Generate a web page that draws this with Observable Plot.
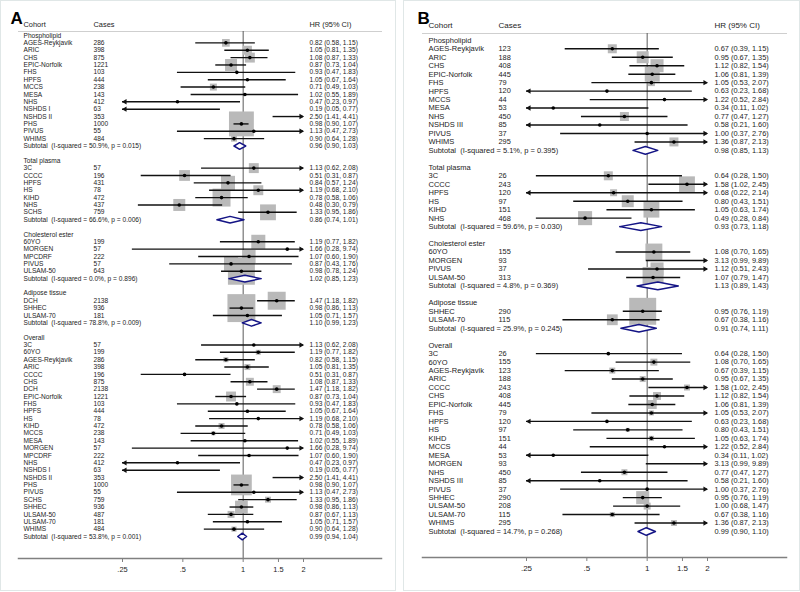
<!DOCTYPE html>
<html>
<head>
<meta charset="utf-8">
<script src="https://cdn.jsdelivr.net/npm/d3@7"></script>
<script src="https://cdn.jsdelivr.net/npm/@observablehq/plot@0.6"></script>
<style>
  body { margin: 0; background: #fff; }
  .panel { position: absolute; top: 0; height: 589px; border: 1px solid #e0e7e7; background: #fff; }
</style>
</head>
<body>
<div id="A" class="panel" style="left:0px;width:394px"></div>
<div id="B" class="panel" style="left:403px;width:395px"></div>
<script>
// ---------- DATA: [cohort, cases, HR, lower, upper, weight] ----------
const sectionNames = ["Phospholipid", "Total plasma", "Cholesterol ester", "Adipose tissue", "Overall"];
const tickValues = [0.25, 0.5, 1, 1.5, 2];
const tickLabels = [".25", ".5", "1", "1.5", "2"];
const headers = ["Cohort", "Cases", "HR (95% CI)"];

// Panel A
const A_phospholipid = [
  ["AGES-Reykjavik", 286, 0.82, 0.58, 1.15, 6.6],
  ["ARIC", 398, 1.05, 0.81, 1.35, 9],
  ["CHS", 875, 1.08, 0.87, 1.33, 11],
  ["EPIC-Norfolk", 1221, 0.87, 0.73, 1.04, 16],
  ["FHS", 103, 0.93, 0.47, 1.83, 0.5],
  ["HPFS", 444, 1.05, 0.67, 1.64, 0.5],
  ["MCCS", 238, 0.71, 0.49, 1.03, 5.4],
  ["MESA", 143, 1.02, 0.55, 1.89, 0.5],
  ["NHS", 412, 0.47, 0.23, 0.97, 0.5],
  ["NSHDS I", 63, 0.19, 0.05, 0.77, 0.4],
  ["NSHDS II", 353, 2.50, 1.41, 4.41, 0.5],
  ["PHS", 1000, 0.98, 0.90, 1.07, 69],
  ["PIVUS", 55, 1.13, 0.47, 2.73, 0.5],
  ["WHIMS", 484, 0.90, 0.64, 1.28, 4]
];
const A_phospholipid_sub = [50.9, 0.015, 0.96, 0.90, 1.03];
const A_total_plasma = [
  ["3C", 57, 1.13, 0.62, 2.08, 11],
  ["CCCC", 196, 0.51, 0.31, 0.87, 13],
  ["HPFS", 431, 0.84, 0.57, 1.24, 22],
  ["HS", 78, 1.19, 0.68, 2.10, 11],
  ["KIHD", 472, 0.78, 0.58, 1.06, 36],
  ["NHS", 437, 0.48, 0.30, 0.79, 16],
  ["SCHS", 759, 1.33, 0.95, 1.86, 28]
];
const A_total_plasma_sub = [66.6, 0.006, 0.86, 0.74, 1.01];
const A_cholesterol_ester = [
  ["60YO", 199, 1.19, 0.77, 1.82, 22],
  ["MORGEN", 57, 1.66, 0.28, 9.74, 0.5],
  ["MPCDRF", 222, 1.07, 0.60, 1.90, 19],
  ["PIVUS", 57, 0.87, 0.43, 1.76, 22],
  ["ULSAM-50", 643, 0.98, 0.78, 1.24, 81]
];
const A_cholesterol_ester_sub = [0.0, 0.896, 1.02, 0.85, 1.23];
const A_adipose = [
  ["DCH", 2138, 1.47, 1.18, 1.82, 36],
  ["SHHEC", 936, 0.98, 0.86, 1.13, 87],
  ["ULSAM-70", 181, 1.05, 0.71, 1.57, 11]
];
const A_adipose_sub = [78.8, 0.009, 1.10, 0.99, 1.23];
const A_overall = [
  ["3C", 57, 1.13, 0.62, 2.08, 0.5],
  ["60YO", 199, 1.19, 0.77, 1.82, 2.8],
  ["AGES-Reykjavik", 286, 0.82, 0.58, 1.15, 2.8],
  ["ARIC", 398, 1.05, 0.81, 1.35, 4],
  ["CCCC", 196, 0.51, 0.31, 0.87, 1],
  ["CHS", 875, 1.08, 0.87, 1.33, 7],
  ["DCH", 2138, 1.47, 1.18, 1.82, 7],
  ["EPIC-Norfolk", 1221, 0.87, 0.73, 1.04, 11],
  ["FHS", 103, 0.93, 0.47, 1.83, 0.5],
  ["HPFS", 444, 1.05, 0.67, 1.64, 1],
  ["HS", 78, 1.19, 0.68, 2.10, 0.5],
  ["KIHD", 472, 0.78, 0.58, 1.06, 4],
  ["MCCS", 238, 0.71, 0.49, 1.03, 1.8],
  ["MESA", 143, 1.02, 0.55, 1.89, 0.5],
  ["MORGEN", 57, 1.66, 0.28, 9.74, 0.3],
  ["MPCDRF", 222, 1.07, 0.60, 1.90, 0.5],
  ["NHS", 412, 0.47, 0.23, 0.97, 0.5],
  ["NSHDS I", 63, 0.19, 0.05, 0.77, 0.3],
  ["NSHDS II", 353, 2.50, 1.41, 4.41, 0.5],
  ["PHS", 1000, 0.98, 0.90, 1.07, 48],
  ["PIVUS", 55, 1.13, 0.47, 2.73, 0.5],
  ["SCHS", 759, 1.33, 0.95, 1.86, 4],
  ["SHHEC", 936, 0.98, 0.86, 1.13, 18],
  ["ULSAM-50", 487, 0.87, 0.67, 1.13, 5.4],
  ["ULSAM-70", 181, 1.05, 0.71, 1.57, 1],
  ["WHIMS", 484, 0.90, 0.64, 1.28, 3]
];
const A_overall_sub = [53.8, 0.001, 0.99, 0.94, 1.04];

// Panel B
const B_phospholipid = [
  ["AGES-Reykjavik", 123, 0.67, 0.39, 1.15, 9],
  ["ARIC", 188, 0.95, 0.67, 1.35, 16],
  ["CHS", 408, 1.12, 0.82, 1.54, 19],
  ["EPIC-Norfolk", 445, 1.06, 0.81, 1.39, 25],
  ["FHS", 79, 1.05, 0.53, 2.07, 5.4],
  ["HPFS", 120, 0.63, 0.23, 1.68, 0.5],
  ["MCCS", 44, 1.22, 0.52, 2.84, 0.5],
  ["MESA", 53, 0.34, 0.11, 1.02, 0.5],
  ["NHS", 450, 0.77, 0.47, 1.27, 9],
  ["NSHDS III", 85, 0.58, 0.21, 1.60, 0.5],
  ["PIVUS", 37, 1.00, 0.37, 2.76, 0.5],
  ["WHIMS", 295, 1.36, 0.87, 2.13, 9]
];
const B_phospholipid_sub = [5.1, 0.395, 0.98, 0.85, 1.13];
const B_total_plasma = [
  ["3C", 26, 0.64, 0.28, 1.50, 9],
  ["CCCC", 243, 1.58, 1.02, 2.45, 28],
  ["HPFS", 120, 0.68, 0.22, 2.14, 5.4],
  ["HS", 97, 0.80, 0.43, 1.51, 16],
  ["KIHD", 151, 1.05, 0.63, 1.74, 28],
  ["NHS", 468, 0.49, 0.28, 0.84, 22]
];
const B_total_plasma_sub = [59.6, 0.030, 0.93, 0.73, 1.18];
const B_cholesterol_ester = [
  ["60YO", 155, 1.08, 0.70, 1.65, 32],
  ["MORGEN", 93, 3.13, 0.99, 9.89, 0.5],
  ["PIVUS", 37, 1.12, 0.51, 2.43, 19],
  ["ULSAM-50", 313, 1.07, 0.79, 1.47, 49]
];
const B_cholesterol_ester_sub = [4.8, 0.369, 1.13, 0.89, 1.43];
const B_adipose = [
  ["SHHEC", 290, 0.95, 0.76, 1.19, 81],
  ["ULSAM-70", 115, 0.67, 0.38, 1.16, 13]
];
const B_adipose_sub = [25.9, 0.245, 0.91, 0.74, 1.11];
const B_overall = [
  ["3C", 26, 0.64, 0.28, 1.50, 1],
  ["60YO", 155, 1.08, 0.70, 1.65, 5.4],
  ["AGES-Reykjavik", 123, 0.67, 0.39, 1.15, 4],
  ["ARIC", 188, 0.95, 0.67, 1.35, 4],
  ["CCCC", 243, 1.58, 1.02, 2.45, 4],
  ["CHS", 408, 1.12, 0.82, 1.54, 7],
  ["EPIC-Norfolk", 445, 1.06, 0.81, 1.39, 9],
  ["FHS", 79, 1.05, 0.53, 2.07, 2.8],
  ["HPFS", 120, 0.63, 0.23, 1.68, 0.5],
  ["HS", 97, 0.80, 0.43, 1.51, 1.8],
  ["KIHD", 151, 1.05, 0.63, 1.74, 2.8],
  ["MCCS", 44, 1.22, 0.52, 2.84, 0.5],
  ["MESA", 53, 0.34, 0.11, 1.02, 0.5],
  ["MORGEN", 93, 3.13, 0.99, 9.89, 0.5],
  ["NHS", 450, 0.77, 0.47, 1.27, 4],
  ["NSHDS III", 85, 0.58, 0.21, 1.60, 0.5],
  ["PIVUS", 37, 1.00, 0.37, 2.76, 0.5],
  ["SHHEC", 290, 0.95, 0.76, 1.19, 19],
  ["ULSAM-50", 208, 1.00, 0.68, 1.47, 5.4],
  ["ULSAM-70", 115, 0.67, 0.38, 1.16, 2.8],
  ["WHIMS", 295, 1.36, 0.87, 2.13, 4]
];
const B_overall_sub = [14.7, 0.268, 0.99, 0.90, 1.10];

// ---------- BUILD ----------
function buildRows(sections) {
  const rows = [];
  let i = 0;
  sections.forEach(([studies, sub], k) => {
    rows.push({i: i++, kind: "header", label: sectionNames[k]});
    for (const [c, n, hr, lo, hi, w] of studies)
      rows.push({i: i++, kind: "study", label: c, cases: n, hr, lo, hi, w});
    rows.push({i: i++, kind: "subtotal",
      label: `Subtotal\u00a0 (I-squared = ${sub[0].toFixed(1)}%, p = ${sub[1].toFixed(3)})`,
      hr: sub[2], lo: sub[3], hi: sub[4]});
    if (k < sections.length - 1) i++;
  });
  return rows;
}

const fmt = d => `${d.hr.toFixed(2)} (${d.lo.toFixed(2)}, ${d.hi.toFixed(2)})`;

function forest(rows, cfg) {
  const [xmin, xmax] = [tickValues[0], tickValues[tickValues.length - 1]];
  const n = d3.max(rows, d => d.i);
  const studies = rows.filter(d => d.kind === "study");
  const inRange = studies.filter(d => d.hr >= xmin && d.hr <= xmax);
  const subs = rows.filter(d => d.kind === "subtotal");
  const clamp = v => Math.max(xmin, Math.min(xmax, v));
  const h = 0.45;
  const diamonds = subs.flatMap(d => [
    {z: d.i, x: d.lo, y: d.i}, {z: d.i, x: d.hr, y: d.i - h},
    {z: d.i, x: d.hi, y: d.i}, {z: d.i, x: d.hr, y: d.i + h},
    {z: d.i, x: d.lo, y: d.i}
  ]);
  const txt = "#1c1c1c";
  return Plot.plot({
    width: cfg.width, height: cfg.height,
    marginLeft: cfg.ml, marginRight: cfg.mr, marginTop: cfg.mt, marginBottom: cfg.mb,
    style: {fontFamily: "'Liberation Sans', Arial, sans-serif", fontSize: cfg.fs + "px", background: "white", overflow: "visible"},
    x: {type: "log", domain: [xmin, xmax], range: cfg.xr},
    y: {domain: [0, n], range: cfg.yr, axis: null},
    r: {type: "sqrt", domain: [0, 100], range: [0, 16.9]},
    marks: [
      Plot.frame({anchor: "top", stroke: "#cfcfcf", strokeWidth: 1}),
      Plot.ruleX([1], {stroke: "#5a5a5a", strokeWidth: 1}),
      Plot.frame({anchor: "bottom", stroke: "#808080", strokeWidth: 1.5}),
      Plot.axisX({ticks: tickValues, tickFormat: d => tickLabels[tickValues.indexOf(d)],
        tickSize: 4, tickPadding: 4, label: null, fontSize: cfg.fsAxis, stroke: "#808080", fill: txt}),
      Plot.dot(inRange, {x: "hr", y: "i", r: "w", symbol: "square", fill: "#b9b9b9"}),
      Plot.ruleY(studies, {y: "i", x1: d => clamp(d.lo), x2: d => clamp(d.hi), stroke: "#111", strokeWidth: 1.4}),
      Plot.dot(studies.filter(d => d.hi > xmax), {x: () => xmax, y: "i", symbol: "triangle", rotate: 90, r: 2, dx: -2.5, fill: "#111"}),
      Plot.dot(studies.filter(d => d.lo < xmin), {x: () => xmin, y: "i", symbol: "triangle", rotate: -90, r: 2, dx: 2.5, fill: "#111"}),
      Plot.dot(inRange, {x: "hr", y: "i", r: 1.8, fill: "#000"}),
      Plot.line(diamonds, {x: "x", y: "y", z: "z", stroke: "#141485", fill: "white", strokeWidth: 1.5}),
      Plot.text(rows, {y: "i", text: "label", frameAnchor: "left", dx: cfg.dxName, textAnchor: "start", fill: txt, fontSize: cfg.fs}),
      Plot.text(studies, {y: "i", text: d => String(d.cases), frameAnchor: "left", dx: cfg.dxCases, textAnchor: "start", fill: txt, fontSize: cfg.fsNum}),
      Plot.text(studies.concat(subs), {y: "i", text: fmt, frameAnchor: "left", dx: cfg.dxCI, textAnchor: "start", fill: txt, fontSize: cfg.fsNum}),
      Plot.text([headers[0]], {frameAnchor: "top-left", dx: cfg.dxName, dy: cfg.hdy, textAnchor: "start", fill: txt, fontSize: cfg.fsAxis}),
      Plot.text([headers[1]], {frameAnchor: "top-left", dx: cfg.dxCases, dy: cfg.hdy, textAnchor: "start", fill: txt, fontSize: cfg.fsAxis}),
      Plot.text([headers[2]], {frameAnchor: "top-left", dx: cfg.dxCI, dy: cfg.hdy, textAnchor: "start", fill: txt, fontSize: cfg.fsAxis}),
      Plot.text([cfg.letter], {frameAnchor: "top-left", dx: cfg.ldx, dy: cfg.ldy, textAnchor: "start", fontSize: 17, fontWeight: "bold", fill: "#000"})
    ]
  });
}

const rowsA = buildRows([
  [A_phospholipid, A_phospholipid_sub],
  [A_total_plasma, A_total_plasma_sub],
  [A_cholesterol_ester, A_cholesterol_ester_sub],
  [A_adipose, A_adipose_sub],
  [A_overall, A_overall_sub]
]);
const rowsB = buildRows([
  [B_phospholipid, B_phospholipid_sub],
  [B_total_plasma, B_total_plasma_sub],
  [B_cholesterol_ester, B_cholesterol_ester_sub],
  [B_adipose, B_adipose_sub],
  [B_overall, B_overall_sub]
]);

document.getElementById("A").append(forest(rowsA, {
  width: 394, height: 589, ml: 17, mr: 14, mt: 30, mb: 32,
  xr: [121, 302], yr: [34, 535], fs: 6.6, fsNum: 6.6, fsAxis: 7.4,
  dxName: 5, dxCases: 75, dxCI: 291, hdy: -9.3, letter: "A", ldx: -8, ldy: -20
}));
document.getElementById("B").append(forest(rowsB, {
  width: 395, height: 589, ml: 18, mr: 13, mt: 32, mb: 33,
  xr: [122, 303], yr: [38.8, 530], fs: 7.5, fsNum: 7.4, fsAxis: 8.0,
  dxName: 6, dxCases: 76, dxCI: 292, hdy: -10.7, letter: "B", ldx: -5, ldy: -22
}));
</script>
</body>
</html>
